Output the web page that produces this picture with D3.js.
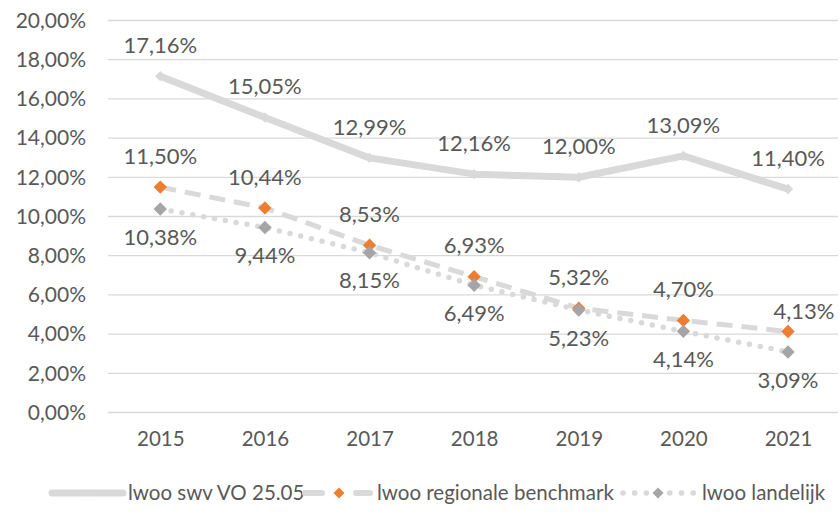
<!DOCTYPE html>
<html>
<head>
<meta charset="utf-8">
<script src="https://cdn.jsdelivr.net/npm/d3@7/dist/d3.min.js"></script>
<style>
  body { margin: 0; background: #fff; }
  svg { display: block; font-family: Lato, "Open Sans", sans-serif; }
</style>
</head>
<body>
<svg id="chart" width="840" height="517"></svg>
<script>
const categories = ["2015", "2016", "2017", "2018", "2019", "2020", "2021"];
const swvValues = [17.16, 15.05, 12.99, 12.16, 12.00, 13.09, 11.40];
const regionaleValues = [11.50, 10.44, 8.53, 6.93, 5.32, 4.70, 4.13];
const landelijkValues = [10.38, 9.44, 8.15, 6.49, 5.23, 4.14, 3.09];
const seriesNames = ["lwoo swv VO 25.05", "lwoo regionale benchmark", "lwoo landelijk"];
const yTicks = [0, 2, 4, 6, 8, 10, 12, 14, 16, 18, 20];

const svg = d3.select("#chart");
const textColor = "#595959";
const gridColor = "#d9d9d9";
const lineColor = "#d9d9d9";

const x = d3.scalePoint().domain(categories).range([160.3, 788]).padding(0);
const y = d3.scaleLinear().domain([0, 20]).range([412.5, 20.5]);
const plotLeft = 108, plotRight = 838;

const fmt = v => d3.format(".2f")(v).replace(".", ",") + "%";

// gridlines
svg.append("g").selectAll("line").data(yTicks).join("line")
  .attr("x1", plotLeft).attr("x2", plotRight)
  .attr("y1", d => y(d)).attr("y2", d => y(d))
  .attr("stroke", gridColor).attr("stroke-width", 1.3);

// y axis labels
const yAxis = d3.axisLeft(y).tickValues(yTicks).tickFormat(fmt).tickSize(0).tickPadding(0);
const ya = svg.append("g").attr("transform", "translate(86,0)").call(yAxis);
ya.select(".domain").remove();
ya.selectAll("text").attr("fill", textColor).style("font-size", "21px").style("font-family", "Lato, sans-serif");

// x axis labels
const xAxis = d3.axisBottom(x).tickSize(0).tickPadding(0);
const xa = svg.append("g").attr("transform", "translate(0,431)").call(xAxis);
xa.select(".domain").remove();
xa.selectAll("text").attr("fill", textColor).style("font-size", "20.5px").style("font-family", "Lato, sans-serif");

const series = [
  { name: seriesNames[0], values: swvValues, stroke: lineColor, width: 7, dash: null, cap: "round", marker: lineColor, msize: 8, labelDy: -31 },
  { name: seriesNames[1], values: regionaleValues, stroke: lineColor, width: 5, dash: "16,9", cap: "butt", marker: "#ED7D31", msize: 11, labelDy: -31 },
  { name: seriesNames[2], values: landelijkValues, stroke: lineColor, width: 5.5, dash: "0,11", cap: "round", marker: "#a5a5a5", msize: 11, labelDy: 28 }
];

const line = d3.line().x((d, i) => x(categories[i])).y(d => y(d));
const diamond = s => `M0,${-s} L${s},0 L0,${s} L${-s},0 Z`;

series.forEach(s => {
  svg.append("path").datum(s.values)
    .attr("d", line).attr("fill", "none")
    .attr("stroke", s.stroke).attr("stroke-width", s.width)
    .attr("stroke-dasharray", s.dash).attr("stroke-linecap", s.cap)
    .attr("stroke-linejoin", "round");
});
series.forEach(s => {
  svg.append("g").selectAll("path").data(s.values).join("path")
    .attr("transform", (d, i) => `translate(${x(categories[i])},${y(d)})`)
    .attr("d", diamond(s.msize / 2 + 1.2)).attr("fill", s.marker);
});
series.forEach(s => {
  svg.append("g").selectAll("text").data(s.values).join("text")
    .attr("x", (d, i) => x(categories[i]) + (s === series[1] && i === 6 ? 16 : 0))
    .attr("y", (d, i) => y(d) + (s === series[1] && i === 6 ? -20 : s.labelDy))
    .attr("dy", "0.35em")
    .attr("text-anchor", "middle")
    .attr("fill", textColor).style("font-size", "22px")
    .text(d => fmt(d));
});

// legend
const legendY = 493;
const legendItems = [
  { s: series[0], x0: 52, x1: 123, mx: 88, tx: 128 },
  { s: series[1], x0: 303, x1: 375, mx: 339, tx: 377 },
  { s: series[2], x0: 623, x1: 695, mx: 658, tx: 702 }
];
legendItems.forEach((li, k) => {
  const g = svg.append("g");
  if (k === 1) {
    [[li.x0 + 2, li.x0 + 19], [li.x1 - 19, li.x1 - 5]].forEach(seg => {
      g.append("line").attr("x1", seg[0]).attr("x2", seg[1]).attr("y1", legendY).attr("y2", legendY)
        .attr("stroke", li.s.stroke).attr("stroke-width", li.s.width + 1).attr("stroke-linecap", "round");
    });
  } else if (k === 2) {
    [0, 1, 2, 4, 5, 6].forEach(j => {
      g.append("circle").attr("cx", li.x0 + j * 11.7).attr("cy", legendY).attr("r", 2.8)
        .attr("fill", li.s.stroke);
    });
  } else {
    g.append("line").attr("x1", li.x0).attr("x2", li.x1).attr("y1", legendY).attr("y2", legendY)
      .attr("stroke", li.s.stroke).attr("stroke-width", li.s.width).attr("stroke-linecap", "round");
  }
  g.append("path").attr("transform", `translate(${li.mx},${legendY})`)
    .attr("d", diamond(k === 0 ? 4 : 5.5)).attr("fill", li.s.marker);
  g.append("text").attr("x", li.tx).attr("y", legendY).attr("dy", "0.35em")
    .attr("fill", textColor).style("font-size", "20.5px").text(li.s.name);
});
</script>
</body>
</html>
